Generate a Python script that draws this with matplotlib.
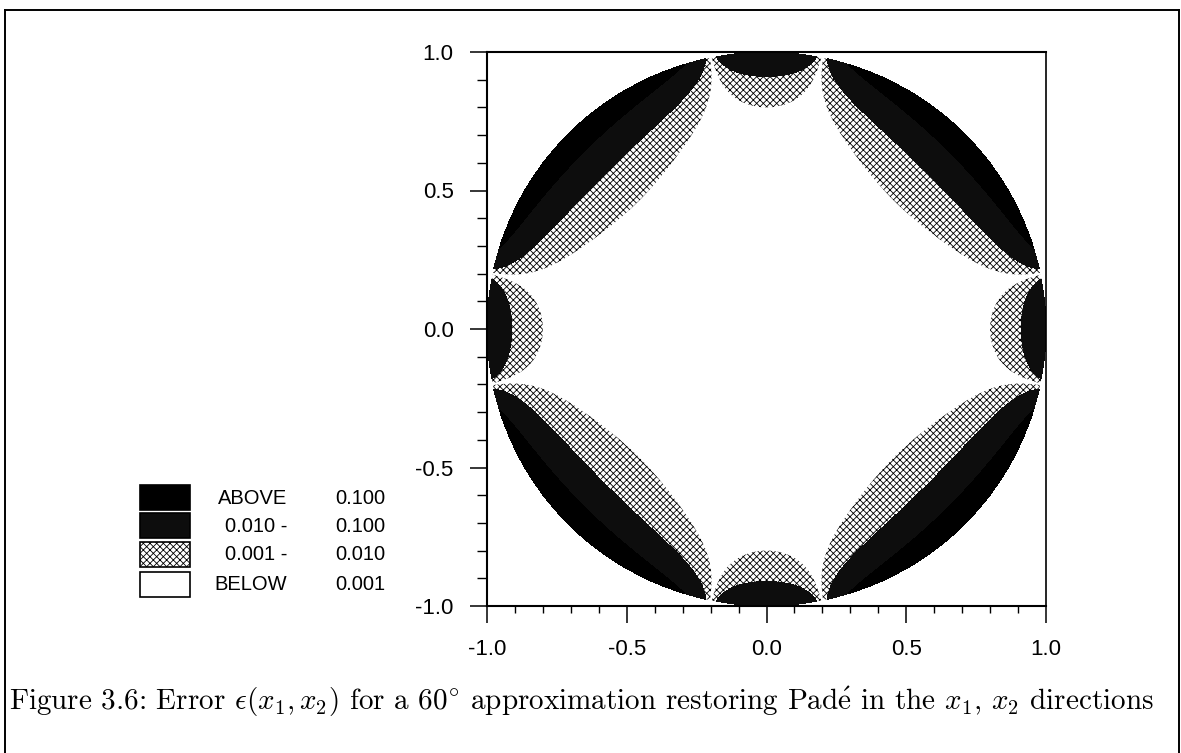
import numpy as np
import matplotlib
matplotlib.use("Agg")
import matplotlib.pyplot as plt
from matplotlib.patches import Rectangle
from matplotlib.lines import Line2D

# ---------------- data ----------------
levels = [0.001, 0.01, 0.1]                       # contour thresholds
legend_labels = ["ABOVE", "0.010 -", "0.001 -", "BELOW"]
legend_values = ["0.100", "0.100", "0.010", "0.001"]
x_ticks = [-1.0, -0.5, 0.0, 0.5, 1.0]
y_ticks = [-1.0, -0.5, 0.0, 0.5, 1.0]
# read-off geometry of the error field
zero_ray_deg = 11.5               # zero-error rays, degrees from each axis
axis_radii = [0.80, 0.915]        # radius of 0.001 / 0.010 contour on the axes
diag_radii = [0.65, 0.80]         # radius of 0.001 / 0.010 contour on diagonals
caption = (r"Figure 3.6: Error $\epsilon(x_1, x_2)$ for a $60^{\circ}$ approximation "
           r"restoring Pad$\'{\rm e}$ in the $x_1$, $x_2$ directions")

# ---------------- style ----------------
plt.rcParams["font.family"] = ["Liberation Sans", "DejaVu Sans"]
plt.rcParams["axes.unicode_minus"] = False
plt.rcParams["mathtext.fontset"] = "cm"
plt.rcParams["hatch.color"] = "black"
plt.rcParams["hatch.linewidth"] = 0.6

W, H = 1181, 753
fig = plt.figure(figsize=(W / 100, H / 100), dpi=100)

def fx(px):
    return px / W

def fy(py):
    return 1 - py / H

L, R, T, B = 487, 1046, 52, 606
ax = fig.add_axes([fx(L), fy(B), fx(R - L), (B - T) / H])

# ---------------- error field ----------------
n = 1201
g = np.linspace(-1, 1, n)
X, Y = np.meshgrid(g, g)
Rr = np.hypot(X, Y)
theta = np.arctan2(Y, X)
u = np.cos(4 * theta)
u0 = np.cos(np.radians(4 * zero_ray_deg))
a = 0.5 * (1.0 / (axis_radii[1] ** 3 - axis_radii[0] ** 3)
           + 1.0 / (diag_radii[1] ** 3 - diag_radii[0] ** 3))
h_ax = np.log10(1 - u0)
h_dg = np.log10(1 + u0)
q = a * (axis_radii[0] ** 3 - diag_radii[0] ** 3) / (h_dg - h_ax)
C = np.log10(levels[0]) - a * axis_radii[0] ** 3 - q * h_ax
with np.errstate(divide="ignore"):
    logE = C + a * Rr ** 3 + q * np.log10(np.abs(u - u0))
E = 10.0 ** logE
E = np.ma.masked_where(Rr > 1.0, E)

band_colors = ["white", "#0d0d0d", "black"]
band_hatches = ["xxxxx", None, None]
ax.contourf(X, Y, E, levels=levels + [1e12], colors=band_colors,
            hatches=band_hatches, antialiased=False)

ax.set_xlim(-1, 1)
ax.set_ylim(-1, 1)
ax.set_xticks(x_ticks)
ax.set_yticks(y_ticks)
ax.set_xticklabels([f"{v:.1f}" for v in x_ticks])
ax.set_yticklabels([f"{v:.1f}" for v in y_ticks])
ax.set_xticks(np.arange(-1, 1.001, 0.1), minor=True)
ax.set_yticks(np.arange(-1, 1.001, 0.1), minor=True)
ax.tick_params(which="major", direction="out", length=12, width=1.1,
               labelsize=16, pad=12)
ax.tick_params(axis="x", which="minor", direction="out", length=5, width=1.0)
ax.tick_params(axis="y", which="minor", direction="out", length=7.5, width=1.0)
for s in ["left", "bottom", "top"]:
    ax.spines[s].set_linewidth(1.5)
ax.spines["right"].set_linewidth(1.2)

# ---------------- legend ----------------
row_tops = [485, 513, 542, 572]
box_colors = ["black", "#0d0d0d", "white", "white"]
box_hatches = [None, None, "xxxxx", None]
for i in range(4):
    top = row_tops[i]
    rect = Rectangle((fx(140), fy(top + 25)), fx(50), 25 / H,
                     transform=fig.transFigure, facecolor=box_colors[i],
                     edgecolor="black", linewidth=1.2, hatch=box_hatches[i])
    fig.patches.append(rect)
    yc = fy(top + 13)
    fig.text(fx(287), yc, legend_labels[i], ha="right", va="center", fontsize=14.5)
    fig.text(fx(335), yc, legend_values[i], ha="left", va="center", fontsize=14.5)

# ---------------- page frame ----------------
lw = 1.4
fig.lines.append(Line2D([fx(5), fx(5)], [0, fy(10)], transform=fig.transFigure,
                        color="black", linewidth=lw))
fig.lines.append(Line2D([fx(5), fx(1179)], [fy(10), fy(10)], transform=fig.transFigure,
                        color="black", linewidth=lw))
fig.lines.append(Line2D([fx(1179), fx(1179)], [0, fy(10)], transform=fig.transFigure,
                        color="black", linewidth=lw))

# ---------------- caption ----------------
fig.text(fx(9), fy(710), caption, ha="left", va="baseline", fontsize=21,
         family=["cmr10", "DejaVu Serif"])

fig.savefig("out.png", dpi=100)
